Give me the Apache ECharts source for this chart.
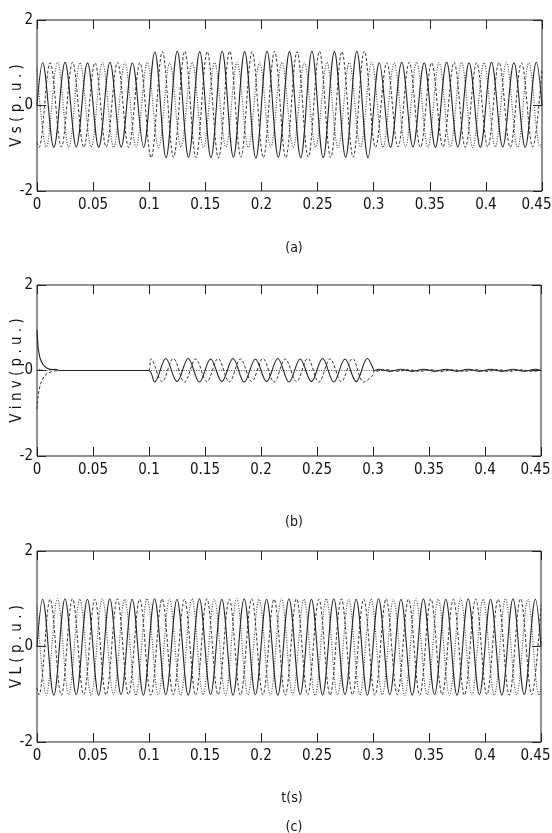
<!DOCTYPE html>
<html>
<head>
<meta charset="utf-8">
<script src="https://cdn.jsdelivr.net/npm/echarts@6/dist/echarts.min.js"></script>
<style>
html,body{margin:0;padding:0;background:#fff;}
#c{width:552px;height:833px;}
</style>
</head>
<body>
<div id="c"></div>
<script>
// ---- tick labels ----
var xTickLabels = ['0','0.05','0.1','0.15','0.2','0.25','0.3','0.35','0.4','0.45'];
var yTickLabels = ['-2','0','2'];
var panelNames = ['V s ( p . u . )', 'V i n v ( p . u . )', 'V L ( p . u . )'];
var captions = ['(a)', '(b)', '(c)'];

// ---- extreme (peak / trough) times of the three phases, s ----
var tA = [0, 0.005, 0.015, 0.025, 0.035, 0.045, 0.055, 0.065, 0.075, 0.085, 0.095, 0.105, 0.115, 0.125, 0.135, 0.145, 0.155, 0.165, 0.175, 0.185, 0.195, 0.205, 0.215, 0.225, 0.235, 0.245, 0.255, 0.265, 0.275, 0.285, 0.295, 0.305, 0.315, 0.325, 0.335, 0.345, 0.355, 0.365, 0.375, 0.385, 0.395, 0.405, 0.415, 0.425, 0.435, 0.445, 0.45];
var tB = [0, 0.0017, 0.0117, 0.0217, 0.0317, 0.0417, 0.0517, 0.0617, 0.0717, 0.0817, 0.0917, 0.1017, 0.1117, 0.1217, 0.1317, 0.1417, 0.1517, 0.1617, 0.1717, 0.1817, 0.1917, 0.2017, 0.2117, 0.2217, 0.2317, 0.2417, 0.2517, 0.2617, 0.2717, 0.2817, 0.2917, 0.3017, 0.3117, 0.3217, 0.3317, 0.3417, 0.3517, 0.3617, 0.3717, 0.3817, 0.3917, 0.4017, 0.4117, 0.4217, 0.4317, 0.4417, 0.45];
var tC = [0, 0.0083, 0.0183, 0.0283, 0.0383, 0.0483, 0.0583, 0.0683, 0.0783, 0.0883, 0.0983, 0.1083, 0.1183, 0.1283, 0.1383, 0.1483, 0.1583, 0.1683, 0.1783, 0.1883, 0.1983, 0.2083, 0.2183, 0.2283, 0.2383, 0.2483, 0.2583, 0.2683, 0.2783, 0.2883, 0.2983, 0.3083, 0.3183, 0.3283, 0.3383, 0.3483, 0.3583, 0.3683, 0.3783, 0.3883, 0.3983, 0.4083, 0.4183, 0.4283, 0.4383, 0.4483, 0.45];

// ---- (a) source voltage, p.u. ----
var vsA = [0, 1.0,-0.98,1.01,-0.97,1.0,-0.98,1.01,-0.97,1.0,-0.98, 1.25,-1.22,1.27,-1.21,1.26,-1.22,1.27,-1.21,1.26,-1.23,1.27,-1.21,1.26,-1.22,1.27,-1.22,1.26,-1.21,1.27,-1.22, 1.0,-0.98,1.01,-0.97,1.0,-0.98,1.01,-0.97,1.0,-0.98,1.01,-0.97,1.0,-0.98,1.01, 0];
var vsB = [-0.86, -0.98,1.0,-0.97,1.01,-0.98,1.0,-0.97,1.01,-0.98,1.0, -1.22,1.26,-1.21,1.27,-1.22,1.26,-1.23,1.27,-1.21,1.26,-1.22,1.27,-1.22,1.26,-1.21,1.27,-1.22,1.26,-1.21,1.27, -0.98,1.0,-0.97,1.01,-0.98,1.0,-0.97,1.01,-0.98,1.0,-0.97,1.01,-0.98,1.0,-0.97, 0.86];
var vsC = [0.86, -0.97,1.01,-0.98,1.0,-0.97,1.01,-0.98,1.0,-0.97,1.01, -0.98,1.0,-0.97,1.01,-0.98,1.0,-0.97,1.01,-0.98,1.0,-0.97,1.01,-0.98,1.0,-0.97,1.01,-0.98,1.0,-0.97,1.01, -0.98,1.0,-0.97,1.01,-0.98,1.0,-0.97,1.01,-0.98,1.0,-0.97,1.01,-0.98,1.0,-0.97, -0.86];

// ---- (b) inverter voltage, p.u. ----
var invTransT = [0, 0.001, 0.002, 0.003, 0.005, 0.007, 0.010, 0.013, 0.016, 0.020, 0.0995];
var invTransA = [0.95, 0.55, 0.38, 0.27, 0.16, 0.09, 0.04, 0.02, 0.03, 0, 0];
var invTransB = [-0.90, -0.60, -0.45, -0.33, -0.20, -0.12, -0.06, -0.03, -0.01, 0, 0];
var invTransC = [0, 0.02, 0.03, 0.02, 0.01, 0, 0, 0.03, 0.01, 0, 0];
var invSagA = [-0.27,0.28,-0.26,0.28,-0.27,0.27,-0.26,0.28,-0.27,0.27,-0.26,0.28,-0.27,0.27,-0.26,0.28,-0.27,0.27,-0.26,0.28];
var invSagB = [0.27,-0.26,0.28,-0.27,0.27,-0.26,0.28,-0.27,0.27,-0.26,0.28,-0.27,0.27,-0.26,0.28,-0.27,0.27,-0.26,0.28,-0.27];
var invEndT = [0.3, 0.301];
var invEndA = [0.06, 0];
var invEndB = [-0.10, 0];
var invRipA = [0.03,-0.02,0.03,-0.02,0.03,-0.02,0.03,-0.02,0.03,-0.02,0.03,-0.02,0.03,-0.02,0.03, 0];
var invRipB = [-0.02,0.02,-0.02,0.02,-0.02,0.02,-0.02,0.02,-0.02,0.02,-0.02,0.02,-0.02,0.02,-0.02, 0];
var invFlatT = [0.02, 0.45];
var invFlatC = [0, 0];

// ---- (c) load voltage, p.u. ----
var vlA = [0, 0.99,-1.02,1.0,-1.01,0.99,-1.02,1.0,-1.01,0.99,-1.02, 1.0,-1.01,0.99,-1.02,1.0,-1.01,0.99,-1.02,1.0,-1.01,0.99,-1.02,1.0,-1.01,0.99,-1.02,1.0,-1.01,0.99,-1.02, 1.0,-1.01,0.99,-1.02,1.0,-1.01,0.99,-1.02,1.0,-1.01,0.99,-1.02,1.0,-1.01,0.99, 0];
var vlB = [-0.87, -1.01,0.99,-1.02,1.0,-1.01,0.99,-1.02,1.0,-1.01,0.99, -1.02,1.0,-1.01,0.99,-1.02,1.0,-1.01,0.99,-1.02,1.0,-1.01,0.99,-1.02,1.0,-1.01,0.99,-1.02,1.0,-1.01,0.99, -1.02,1.0,-1.01,0.99,-1.02,1.0,-1.01,0.99,-1.02,1.0,-1.01,0.99,-1.02,1.0,-1.01, 0.86];
var vlC = [0.86, -1.02,1.0,-1.01,0.99,-1.02,1.0,-1.01,0.99,-1.02,1.0, -1.01,0.99,-1.02,1.0,-1.01,0.99,-1.02,1.0,-1.01,0.99,-1.02,1.0,-1.01,0.99,-1.02,1.0,-1.01,0.99,-1.02,1.0, -1.01,0.99,-1.02,1.0,-1.01,0.99,-1.02,1.0,-1.01,0.99,-1.02,1.0,-1.01,0.99,-1.02, -0.87];

function zip(t, v) { return t.map(function (x, i) { return [x, v[i]]; }); }

var invA = zip(invTransT, invTransA).concat(zip(tA.slice(11, 31), invSagA), zip(invEndT, invEndA), zip(tA.slice(31), invRipA));
var invB = zip(invTransT, invTransB).concat(zip(tB.slice(11, 31), invSagB), zip(invEndT, invEndB), zip(tB.slice(31), invRipB));
var invC = zip(invTransT.slice(0, 10), invTransC.slice(0, 10)).concat(zip(invFlatT, invFlatC));

var panels = [
  [zip(tA, vsA), zip(tB, vsB), zip(tC, vsC)],
  [invA, invB, invC],
  [zip(tA, vlA), zip(tB, vlB), zip(tC, vlC)]
];

var FONT = "'Liberation Sans Narrow', 'DejaVu Sans Condensed', 'Liberation Sans', sans-serif";
var grids = [
  {left: 37, top: 20, width: 505, height: 171},
  {left: 37, top: 285, width: 504, height: 171},
  {left: 37, top: 551, width: 504, height: 191}
];
var styles = [
  {type: 'solid', color: '#222', width: 1.1},
  {type: [3, 2], color: '#333', width: 1},
  {type: [1, 1.5], color: '#444', width: 1.1}
];

var xAxes = [], yAxes = [], series = [], titles = [];
grids.forEach(function (g, p) {
  g.show = true; g.borderColor = '#222'; g.borderWidth = 1; g.backgroundColor = '#fff';
  g.outerBoundsMode = 'none'; g.containLabel = false;
  var tick = {show: true, inside: true, length: 9, lineStyle: {color: '#222'}};
  xAxes.push({
    gridIndex: p, type: 'value', min: 0, max: 0.45, interval: 0.05, position: 'bottom',
    axisLine: {show: false, onZero: false}, axisTick: tick, splitLine: {show: false},
    axisLabel: {color: '#111', fontFamily: FONT, fontSize: 15, margin: 7,
      formatter: function (v) {
        var i = Math.round(v / 0.05);
        return i === xTickLabels.length - 1 ? '{e|' + xTickLabels[i] + '}' : xTickLabels[i];
      },
      rich: {e: {fontFamily: FONT, fontSize: 15, color: '#111', padding: [0, 11, 0, 0]}}}
  });
  xAxes.push({
    gridIndex: p, type: 'value', min: 0, max: 0.45, interval: 0.05, position: 'top',
    axisLine: {show: false, onZero: false}, axisTick: tick, splitLine: {show: false}, axisLabel: {show: false}
  });
  yAxes.push({
    gridIndex: p, type: 'value', min: -2, max: 2, interval: 2, position: 'left',
    axisLine: {show: false, onZero: false}, axisTick: tick, splitLine: {show: false},
    name: panelNames[p], nameLocation: 'middle', nameGap: 12, nameRotate: 90, nameMoveOverlap: false,
    nameTextStyle: {color: '#111', fontFamily: FONT, fontSize: 15},
    axisLabel: {color: '#111', fontFamily: FONT, fontSize: 15, margin: 4,
      formatter: function (v) { return yTickLabels[Math.round(v / 2) + 1]; }}
  });
  yAxes.push({
    gridIndex: p, type: 'value', min: -2, max: 2, interval: 2, position: 'right',
    axisLine: {show: false, onZero: false}, axisTick: tick, splitLine: {show: false}, axisLabel: {show: false}
  });
  panels[p].forEach(function (d, k) {
    series.push({
      type: 'line', xAxisIndex: 2 * p, yAxisIndex: 2 * p, data: d,
      showSymbol: false, smooth: 0.36, lineStyle: styles[k], z: 3 - k, silent: true
    });
  });
});

var capStyle = {fontFamily: FONT, fontSize: 14, fontWeight: 'normal', color: '#111'};
titles.push({text: captions[0], left: 289, top: 236, textAlign: 'center', textStyle: capStyle});
titles.push({text: captions[1], left: 289, top: 510, textAlign: 'center', textStyle: capStyle});
titles.push({text: 't(s)', left: 287, top: 786, textAlign: 'center', textStyle: capStyle});
titles.push({text: captions[2], left: 289, top: 815, textAlign: 'center', textStyle: capStyle});

var chart = echarts.init(document.getElementById('c'), null, {renderer: 'canvas'});
chart.setOption({
  animation: false,
  backgroundColor: '#fff',
  title: titles,
  grid: grids,
  xAxis: xAxes,
  yAxis: yAxes,
  series: series
});
</script>
</body>
</html>
